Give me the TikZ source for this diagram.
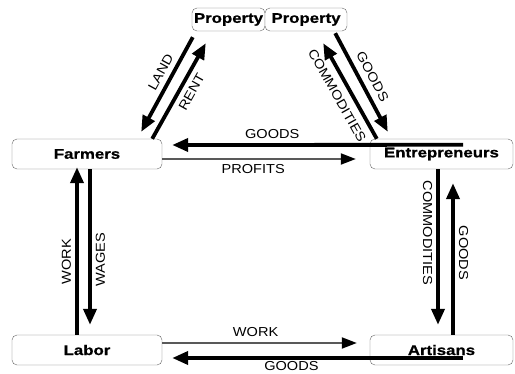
\documentclass[tikz,border=0pt]{standalone}
\usepackage{fontspec}
\setmainfont{Liberation Sans}
\newfontfamily\boxfont{Liberation Sans}[FakeStretch=1.2,FakeBold=0.8]
\newfontfamily\flowfont{Liberation Sans}[FakeStretch=1.12]
\usetikzlibrary{arrows.meta}

\begin{document}
\begin{tikzpicture}[x=1pt, y=-1pt,
    party/.style={draw=black!60, thin, rounded corners=5pt, fill=white, inner sep=0pt,
      minimum width=150pt, minimum height=30pt,
      font=\boxfont\bfseries\fontsize{14}{16}\selectfont},
    flow/.style={line width=3.8pt, -{Triangle[width=13pt,length=16pt]}},
    faint/.style={line width=2pt, black!65, -{Triangle[width=11pt,length=15pt,color=black]}},
    lbl/.style={inner sep=4pt, font=\flowfont\fontsize{13}{15}\selectfont}]
    \useasboundingbox (0,0) rectangle (515,374);

    \node[party, minimum width=73pt, minimum height=23pt] (propl) at (228.5,19.5) {Property};
    \node[party, minimum width=82pt, minimum height=23pt] (propr) at (306,19.5) {Property};
    \node[party] (farmers) at (87,154) {Farmers};
    \node[party, minimum width=143pt] (entre) at (441.5,154) {Entrepreneurs};
    \node[party] (labor) at (87,350) {Labor};
    \node[party, minimum width=143pt] (artisans) at (441.5,350) {Artisans};

    % farmers and property
    \draw[flow] ([xshift=1pt,yshift=-6pt]propl.south west) -- ([xshift=-21pt,yshift=7pt]farmers.north east)
      node[lbl, sloped, above=1pt, pos=0.43] {LAND};
    \draw[flow] ([xshift=-10pt]farmers.north east) -- ([xshift=14pt,yshift=-12pt]propl.south west)
      node[lbl, sloped, below=1pt, pos=0.55] {RENT};

    % entrepreneurs and property
    \draw[flow] ([xshift=7pt]entre.north west) -- ([xshift=-24pt,yshift=-12pt]propr.south east)
      node[lbl, sloped, below=3pt, pos=0.52] {COMMODITIES};
    \draw[flow] ([xshift=-12pt,yshift=-2pt]propr.south east) -- ([xshift=18pt,yshift=7pt]entre.north west)
      node[lbl, sloped, above=2pt, pos=0.5] {GOODS};

    % farmers and entrepreneurs
    \draw[flow] ([xshift=21.5pt,yshift=-6pt]entre.north) -- ([xshift=10pt,yshift=9pt]farmers.east)
      node[lbl, above=0pt, pos=0.656] {GOODS};
    \draw[faint] ([yshift=-5pt]farmers.east) -- ([xshift=-14pt,yshift=-5pt]entre.west)
      node[lbl, black, below=0pt, pos=0.47] {PROFITS};

    % farmers and labor
    \draw[flow] ([xshift=-10pt]labor.north) -- ([xshift=-10pt,yshift=2pt]farmers.south)
      node[lbl, rotate=90, anchor=south, pos=0.435] {WORK};
    \draw[flow] ([xshift=3pt]farmers.south) -- ([xshift=3pt,yshift=10pt]labor.north)
      node[lbl, rotate=90, anchor=north, pos=0.58] {WAGES};

    % entrepreneurs and artisans
    \draw[flow] ([xshift=-3.5pt]entre.south) -- ([xshift=-3.5pt,yshift=10pt]artisans.north)
      node[lbl, rotate=-90, anchor=north, pos=0.41] {COMMODITIES};
    \draw[flow] ([xshift=11.5pt]artisans.north) -- ([xshift=11.5pt,yshift=-14pt]entre.south)
      node[lbl, rotate=-90, anchor=south, pos=0.54] {GOODS};

    % labor and artisans
    \draw[faint] ([yshift=7pt]labor.east) -- ([xshift=-13pt,yshift=7pt]artisans.west)
      node[lbl, black, above=1pt, pos=0.48] {WORK};
    \draw[flow] ([xshift=21.5pt,yshift=-8pt]artisans.center) -- ([xshift=10pt,yshift=-8pt]labor.east)
      node[lbl, below=-2.5pt, pos=0.59] {GOODS};
\end{tikzpicture}
\end{document}
